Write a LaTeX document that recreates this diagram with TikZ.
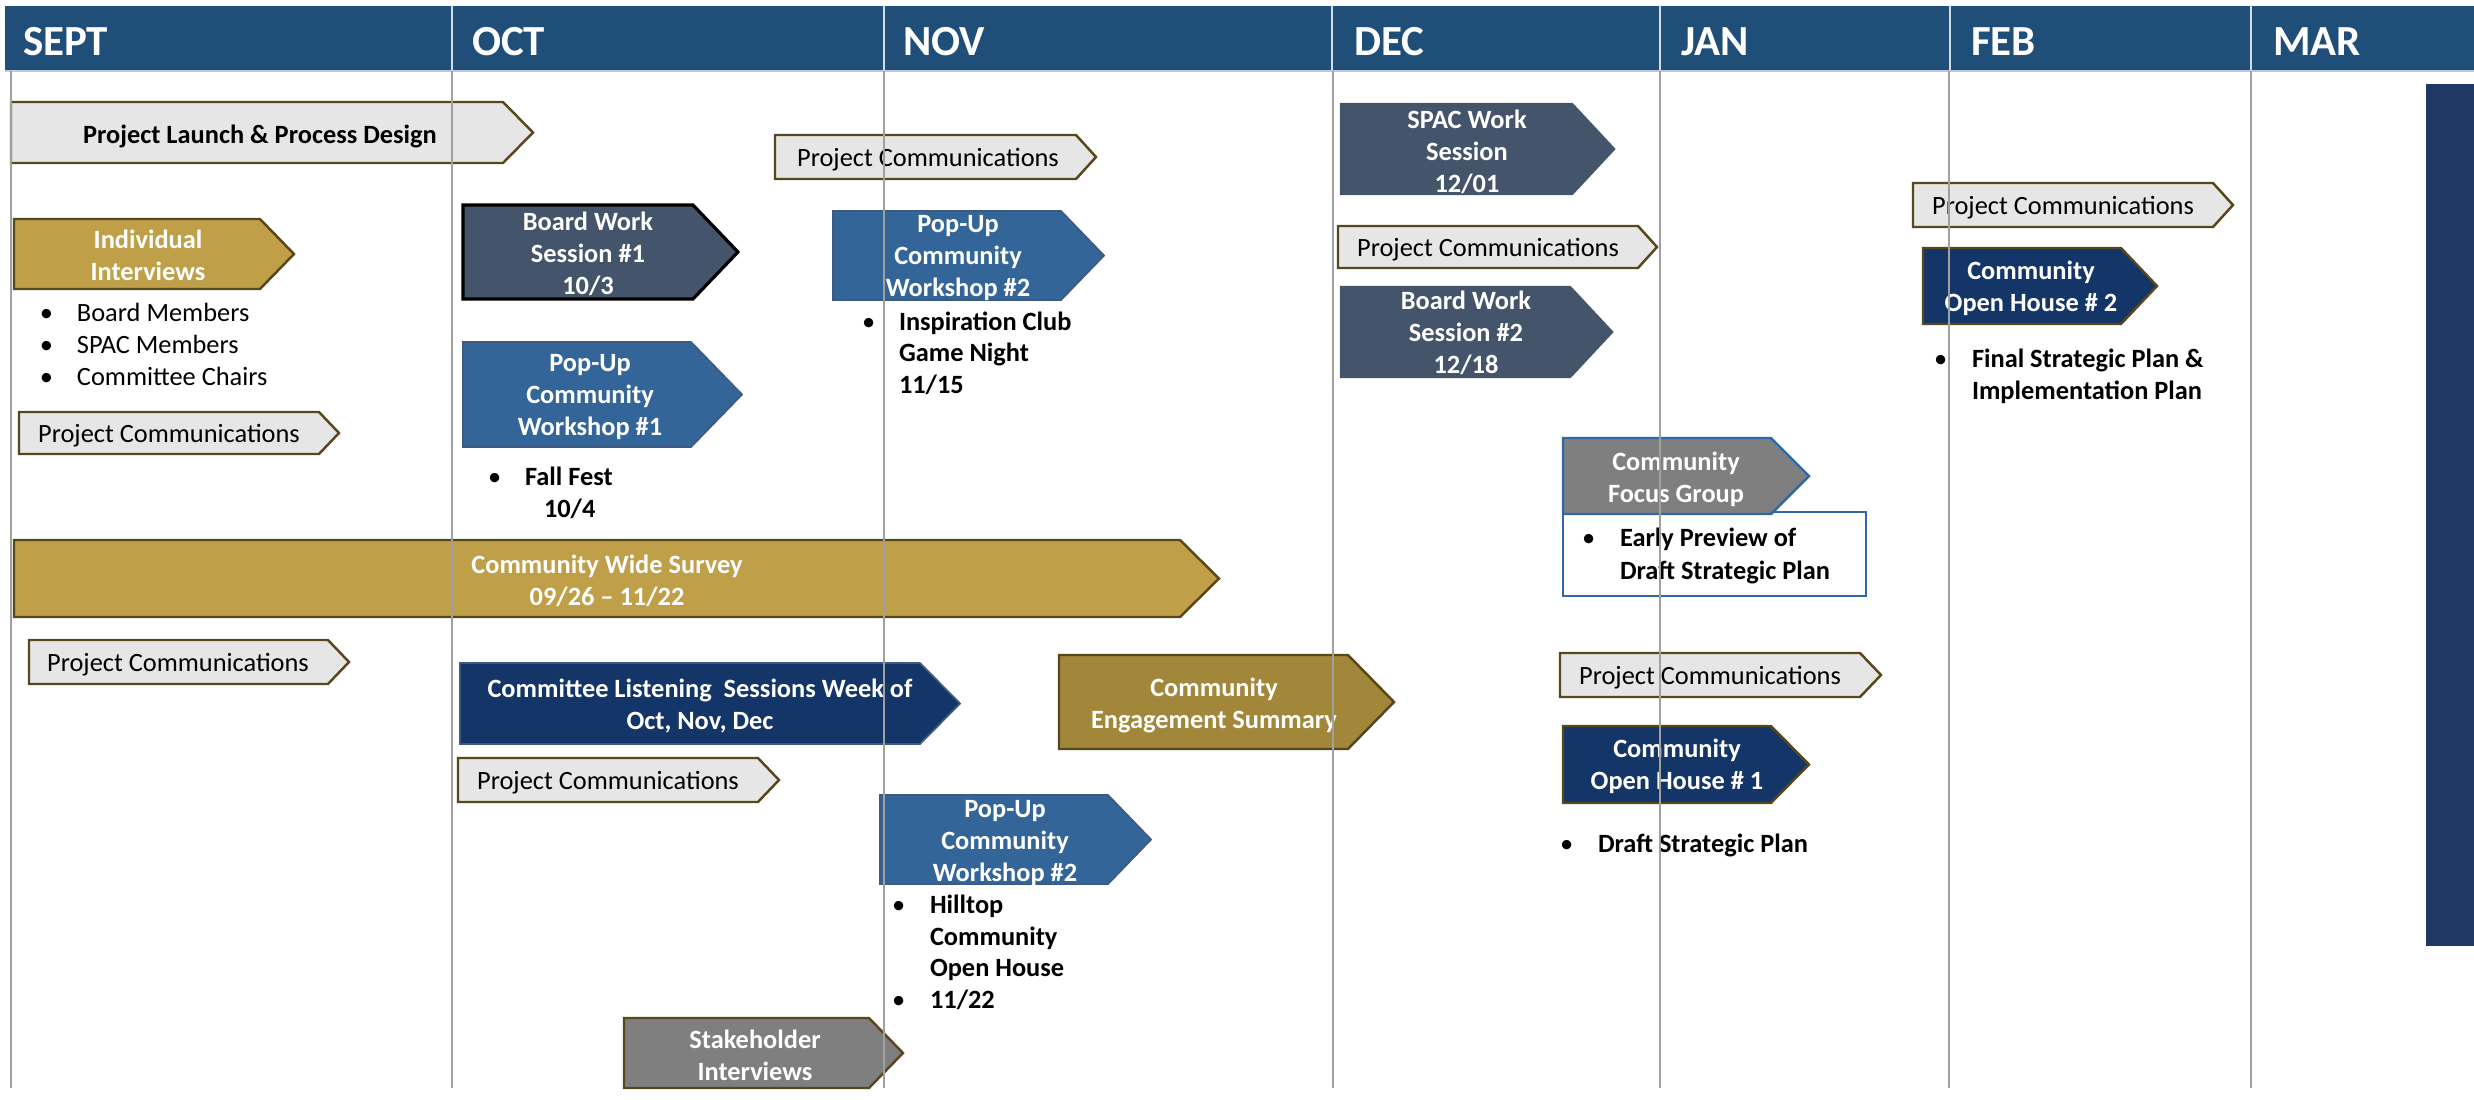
\documentclass[tikz,border=0pt]{standalone}
\usepackage{fontspec}
\setmainfont{Carlito}
\definecolor{hdr}{RGB}{31,78,121}
\definecolor{navyrect}{RGB}{32,56,100}
\definecolor{commfill}{RGB}{231,230,230}
\definecolor{brd}{RGB}{89,71,28}
\definecolor{gold}{RGB}{191,159,72}
\definecolor{dgold}{RGB}{162,134,58}
\definecolor{slate}{RGB}{68,84,106}
\definecolor{popblue}{RGB}{52,101,153}
\definecolor{popbrd}{RGB}{60,90,130}
\definecolor{navy}{RGB}{20,53,103}
\definecolor{grayfill}{RGB}{127,127,127}
\definecolor{bluebrd}{RGB}{46,104,170}
\definecolor{gridgray}{RGB}{160,160,160}
\newcommand\chev[6]{% style, x1, y1, xb, xt, y2
  \path[#1] (#2,#3) -- (#4,#3) -- (#5,{(#3+#6)/2}) -- (#4,#6) -- (#2,#6) -- cycle;}
\begin{document}
\begin{tikzpicture}[x=0.01cm,y=-0.01cm,
  every node/.style={inner sep=0pt,outer sep=0pt},
  base/.style={line width=0.7pt,line join=miter},
  comm/.style={base,fill=commfill,draw=brd},
  goldbox/.style={base,fill=gold,draw=brd},
  dgoldbox/.style={base,fill=dgold,draw=brd},
  slatebox/.style={base,fill=slate,draw=slate},
  slateblk/.style={base,fill=slate,draw=black,line width=0.9pt},
  popbox/.style={base,fill=popblue,draw=popbrd,line width=0.5pt},
  navybox/.style={base,fill=navy,draw=popbrd,line width=0.5pt},
  navybrd/.style={base,fill=navy,draw=brd},
  graybox/.style={base,fill=grayfill,draw=brd},
  graybl/.style={base,fill=grayfill,draw=bluebrd},
  lbl/.style={text=white,font=\fontsize{7.5}{9.1}\selectfont\bfseries,align=center},
  ctext/.style={text=black,font=\fontsize{7.5}{9.1}\selectfont,align=center},
  btext/.style={text=black,font=\fontsize{7.5}{9.1}\selectfont\bfseries,anchor=base west},
  rtext/.style={text=black,font=\fontsize{7.5}{9.1}\selectfont,anchor=base west},
  bul/.style={text=black,font=\fontsize{7.5}{9.1}\selectfont,anchor=base west},
  hdrtext/.style={text=white,font=\fontsize{12.2}{14}\selectfont\bfseries,anchor=base west},
  gridline/.style={draw=gridgray,line width=0.35pt}]
\useasboundingbox (0,0) rectangle (2474,1099);
% header
\fill[hdr] (5,6) rectangle (2474,71);
\foreach \hx in {452,884,1332,1660,1950,2251}{\draw[white!80!hdr,line width=0.6pt] (\hx,6) -- (\hx,71);}
\draw[white!70!hdr,line width=0.5pt] (5,71) -- (2474,71);
\node[hdrtext] (hsept) at (23,55) {SEPT};
\node[hdrtext] (hoct) at (472,55) {OCT};
\node[hdrtext] (hnov) at (903,55) {NOV};
\node[hdrtext] (hdec) at (1354,55) {DEC};
\node[hdrtext] (hjan) at (1681,55) {JAN};
\node[hdrtext] (hfeb) at (1971,55) {FEB};
\node[hdrtext] (hmar) at (2273,55) {MAR};
% right bar
\fill[navyrect] (2426,84) rectangle (2474,946);

% SEPT
\chev{comm}{11}{102}{503}{533}{163}
\node[ctext,font=\fontsize{7.5}{9.1}\selectfont\bfseries] (launch) at (260,136) {Project Launch \& Process Design};
\chev{goldbox}{14}{219}{260}{294}{289}
\node[lbl] (indiv) at (148,255) {Individual\\Interviews};
\node[bul] (b1) at (40,321) {\textbullet};
\node[rtext] (t1) at (77,321) {Board Members};
\node[bul] (b2) at (40,353) {\textbullet};
\node[rtext] (t2) at (77,353) {SPAC Members};
\node[bul] (b3) at (40,385) {\textbullet};
\node[rtext] (t3) at (77,385) {Committee Chairs};
\chev{comm}{19}{412}{319}{339}{454}
\node[ctext] (pc1) at (169,436) {Project Communications};
\chev{goldbox}{14}{540}{1180}{1219}{617}
\node[lbl] (survey) at (607,581) {Community Wide Survey\\09/26 -- 11/22};
\chev{comm}{29}{640}{328}{349}{684}
\node[ctext] (pc2) at (178,665) {Project Communications};

% OCT
\chev{slateblk}{463}{205}{693}{738}{299}
\node[lbl] (bws1) at (588,254) {Board Work\\Session \#1\\10/3};
\chev{popbox}{463}{342}{691}{742}{447}
\node[lbl] (pop1) at (590,397) {Pop-Up\\Community\\Workshop \#1};
\node[bul] (b4) at (488,485) {\textbullet};
\node[btext] (t4) at (525,485) {Fall Fest};
\node[btext] (t5) at (544,517) {10/4};
\chev{navybox}{460}{663}{920}{960}{744}
\node[lbl] (commit) at (700,706) {Committee Listening~~Sessions Week of\\Oct, Nov, Dec};
\chev{comm}{458}{758}{758}{779}{802}
\node[ctext] (pc3) at (608,783) {Project Communications};
\chev{graybox}{624}{1018}{869}{903}{1088}
\node[lbl] (stake) at (755,1055) {Stakeholder\\Interviews};

% NOV
\chev{comm}{775}{135}{1076}{1096}{179}
\node[ctext] (pc4) at (928,160) {Project Communications};
\chev{popbox}{833}{211}{1061}{1104}{300}
\node[lbl] (pop2a) at (958,258) {Pop-Up\\Community\\Workshop \#2};
\node[bul] (b6) at (862,330) {\textbullet};
\node[btext] (t6) at (899,330) {Inspiration Club};
\node[btext] (t7) at (899,361) {Game Night};
\node[btext] (t8) at (899,393) {11/15};
\chev{dgoldbox}{1059}{655}{1348}{1394}{749}
\node[lbl] (ces) at (1214,705) {Community\\Engagement Summary};
\chev{popbox}{880}{795}{1108}{1151}{884}
\node[lbl] (pop2b) at (1005,843) {Pop-Up\\Community\\Workshop \#2};
\node[bul] (b9) at (892,913) {\textbullet};
\node[btext] (t9) at (930,913) {Hilltop};
\node[btext] (t10) at (930,945) {Community};
\node[btext] (t11) at (930,976) {Open House};
\node[bul] (b12) at (892,1008) {\textbullet};
\node[btext] (t12) at (930,1008) {11/22};

% DEC
\chev{slatebox}{1341}{104}{1572}{1614}{194}
\node[lbl] (spac) at (1467,152) {SPAC Work\\Session\\12/01};
\chev{comm}{1338}{226}{1638}{1657}{268}
\node[ctext] (pc5) at (1488,250) {Project Communications};
\chev{slatebox}{1341}{287}{1570}{1612}{377}
\node[lbl] (bws2) at (1466,333) {Board Work\\Session \#2\\12/18};

% JAN
\draw[base,fill=white,draw=bluebrd,line width=0.5pt] (1563,512) rectangle (1866,596);
\chev{graybl}{1563}{438}{1771}{1809}{514}
\node[lbl] (focus) at (1676,479) {Community\\Focus Group};
\node[bul] (b13) at (1582,546) {\textbullet};
\node[btext] (t13) at (1620,546) {Early Preview of};
\node[btext] (t14) at (1620,579) {Draft Strategic Plan};
\chev{comm}{1560}{653}{1860}{1881}{697}
\node[ctext] (pc7) at (1710,678) {Project Communications};
\chev{navybrd}{1563}{726}{1771}{1809}{803}
\node[lbl] (oh1) at (1677,766) {Community\\Open House \# 1};
\node[bul] (b15) at (1560,852) {\textbullet};
\node[btext] (t15) at (1598,852) {Draft Strategic Plan};

% FEB
\chev{comm}{1913}{183}{2213}{2233}{227}
\node[ctext] (pc6) at (2063,208) {Project Communications};
\chev{navybrd}{1923}{248}{2121}{2157}{324}
\node[lbl] (oh2) at (2031,288) {Community\\Open House \# 2};
\node[bul] (b16) at (1934,367) {\textbullet};
\node[btext] (t16) at (1972,367) {Final Strategic Plan \&};
\node[btext] (t17) at (1972,399) {Implementation Plan};

% grid lines on top
\foreach \gx in {11,452,884,1333,1660,1949,2251}{\draw[gridline] (\gx,71) -- (\gx,1088);}
\end{tikzpicture}
\end{document}
